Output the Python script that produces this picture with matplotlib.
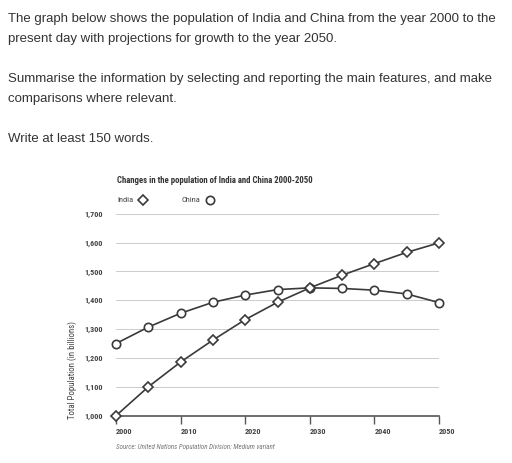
import matplotlib.pyplot as plt

# Population (millions)
years = [2000, 2005, 2010, 2015, 2020, 2025, 2030, 2035, 2040, 2045, 2050]
india = [1000, 1100, 1186, 1262, 1333, 1393, 1443, 1487, 1527, 1566, 1599]
china = [1250, 1307, 1355, 1393, 1418, 1437, 1443, 1441, 1435, 1422, 1392]

y_ticks = [1000, 1100, 1200, 1300, 1400, 1500, 1600, 1700]
x_ticks = [2000, 2010, 2020, 2030, 2040, 2050]

prompt_lines = [
    "The graph below shows the population of India and China from the year 2000 to the",
    "present day with projections for growth to the year 2050.",
    "",
    "Summarise the information by selecting and reporting the main features, and make",
    "comparisons where relevant.",
    "",
    "Write at least 150 words.",
]

W, H = 512, 463
narrow = ["Roboto Condensed", "DejaVu Sans"]
ink = "#3a3a3a"

fig = plt.figure(figsize=(W / 100, H / 100), dpi=100)
fig.patch.set_facecolor("white")

# prompt text
for i, line in enumerate(prompt_lines):
    if line:
        fig.text(8 / W, 1 - (19 + 20 * i) / H, line, fontsize=9.53,
                 family="Liberation Sans", color="#333333", va="center", ha="left")

# axes placed in pixel terms
left, right, top, bottom = 116, 439, 213.7, 415.7
ax = fig.add_axes([left / W, 1 - bottom / H, (right - left) / W, (bottom - top) / H])

ax.plot(years, china, color=ink, lw=1.2, marker="o", ms=6, mfc="white",
        mec=ink, mew=1.2, clip_on=False, zorder=3)
ax.plot(years, india, color=ink, lw=1.2, marker="D", ms=5, mfc="white",
        mec=ink, mew=1.2, clip_on=False, zorder=4)

ax.set_xlim(2000, 2050)
ax.set_ylim(1000, 1700)
ax.set_yticks(y_ticks)
ax.set_yticklabels([f"{v:,}" for v in y_ticks])
ax.set_xticks(x_ticks)
ax.set_xticklabels([str(v) for v in x_ticks])
for lbl in ax.get_xticklabels():
    lbl.set_horizontalalignment("left")
    lbl.set_family(narrow)
    lbl.set_fontweight("bold")
for lbl in ax.get_yticklabels():
    lbl.set_family(narrow)
    lbl.set_fontweight("bold")

ax.tick_params(axis="x", length=6, width=1, color="#555555", labelsize=5.9,
               labelcolor="#444444", pad=2.5)
ax.tick_params(axis="y", length=0, labelsize=5.9, labelcolor="#444444", pad=9.5)

ax.grid(axis="y", color="#cccccc", lw=0.7)
ax.set_axisbelow(True)
for s in ["top", "right", "left"]:
    ax.spines[s].set_visible(False)
ax.spines["bottom"].set_color("#555555")
ax.spines["bottom"].set_linewidth(1.2)

ax.set_ylabel("Total Population (in billions)", fontsize=6.3, family=narrow,
              color="#444444")
ax.yaxis.set_label_coords(-(left - 72.7) / (right - left), (bottom - 370) / (bottom - top))
ax.yaxis.label.set_verticalalignment("center")

# title, legend row and source line
fig.text(117 / W, 1 - 180 / H, "Changes in the population of India and China 2000-2050",
         fontsize=6.3, family=narrow, fontweight="bold", color="#333333",
         va="center", ha="left")
fig.text(117 / W, 1 - 199.5 / H, "India", fontsize=6, family=narrow, color="#444444",
         va="center", ha="left")
fig.text(181 / W, 1 - 199.5 / H, "China", fontsize=6, family=narrow, color="#444444",
         va="center", ha="left")
fig.lines.append(plt.Line2D([142.7 / W], [1 - 199.5 / H], marker="D", ms=5, mfc="white",
                            mec=ink, mew=1.2, transform=fig.transFigure, ls="none"))
fig.lines.append(plt.Line2D([209.7 / W], [1 - 199.5 / H], marker="o", ms=6, mfc="white",
                            mec=ink, mew=1.2, transform=fig.transFigure, ls="none"))
fig.text(116 / W, 1 - 446.5 / H, "Source: United Nations Population Division: Medium variant",
         fontsize=5.0, family=narrow, style="italic", color="#777777",
         va="center", ha="left")

fig.savefig("out.png", dpi=100)
